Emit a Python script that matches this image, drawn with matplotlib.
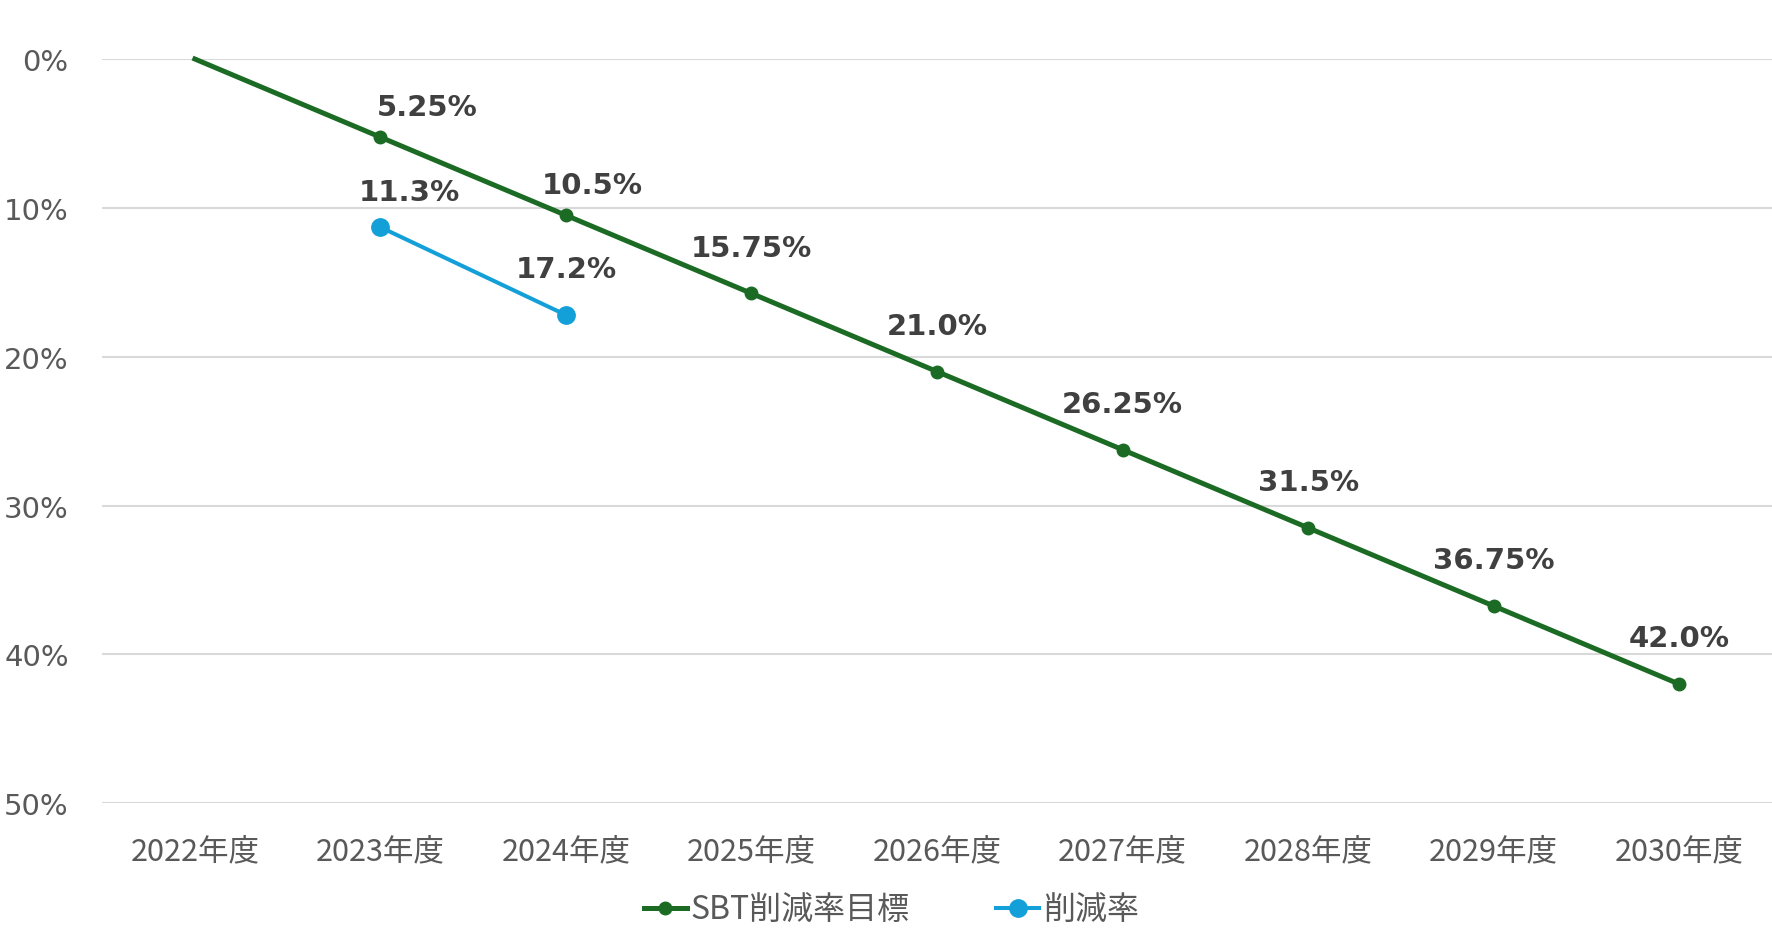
import matplotlib
matplotlib.use("Agg")
import matplotlib.pyplot as plt
from matplotlib.ticker import FuncFormatter

categories = ["2022年度", "2023年度", "2024年度", "2025年度", "2026年度",
              "2027年度", "2028年度", "2029年度", "2030年度"]
sbt_target = [0.0, 5.25, 10.5, 15.75, 21.0, 26.25, 31.5, 36.75, 42.0]
sbt_labels = [None, "5.25%", "10.5%", "15.75%", "21.0%", "26.25%", "31.5%", "36.75%", "42.0%"]
actual_idx = [1, 2]
actual_vals = [11.3, 17.2]
actual_labels = ["11.3%", "17.2%"]
yticks = [0, 10, 20, 30, 40, 50]

GREEN = "#1B6B25"
BLUE = "#139FD8"
LABEL_C = "#404040"
TICK_C = "#595959"
CJK = ["Noto Sans CJK JP", "DejaVu Sans"]

fig = plt.figure(figsize=(17.72, 9.45), dpi=100)
ax = fig.add_axes([0.0576, 0.149, 0.9424, 0.7875])

x = list(range(len(categories)))
ax.plot(x, sbt_target, color=GREEN, lw=3.6, marker="o", ms=9,
        markevery=list(range(1, len(x))), label="SBT削減率目標", clip_on=False, zorder=3)
ax.plot(actual_idx, actual_vals, color=BLUE, lw=2.9, marker="o", ms=12.5,
        label="削減率", clip_on=False, zorder=4)

# data labels (offsets in points)
sbt_off = {1: (34, 22), 2: (19, 22)}
for i, (v, t) in enumerate(zip(sbt_target, sbt_labels)):
    if t is None:
        continue
    dx, dy = sbt_off.get(i, (0, 33))
    ax.annotate(t, (i, v), xytext=(dx, dy), textcoords="offset points",
                ha="center", va="center", fontsize=21, fontweight="bold",
                color=LABEL_C, family="DejaVu Sans")
act_off = [(21, 25), (0, 33)]
for i, v, t, (dx, dy) in zip(actual_idx, actual_vals, actual_labels, act_off):
    ax.annotate(t, (i, v), xytext=(dx, dy), textcoords="offset points",
                ha="center", va="center", fontsize=21, fontweight="bold",
                color=LABEL_C, family="DejaVu Sans")

ax.set_xlim(-0.5, len(categories) - 0.5)
ax.set_ylim(50, 0)
ax.set_yticks(yticks)
ax.yaxis.set_major_formatter(FuncFormatter(lambda v, p: f"{v:.0f}%"))
ax.set_xticks(x)
ax.set_xticklabels(categories, family=CJK, fontsize=22, color=TICK_C)
for lbl in ax.get_yticklabels():
    lbl.set_family("DejaVu Sans")
    lbl.set_fontsize(21)
    lbl.set_color(TICK_C)
    lbl.set_va("center_baseline")
ax.tick_params(axis="both", length=0)
ax.tick_params(axis="y", pad=24)
ax.tick_params(axis="x", pad=23)
ax.grid(axis="y", color="#D9D9D9", lw=1.5)
ax.set_axisbelow(True)
for s in ax.spines.values():
    s.set_visible(False)

leg = fig.legend(loc="center", bbox_to_anchor=(0.503, 0.036), ncol=2, frameon=False,
                 prop={"family": CJK, "size": 23}, handlelength=1.35, columnspacing=2.7,
                 handletextpad=0.12)
for t in leg.get_texts():
    t.set_color(TICK_C)

fig.savefig("out.png", dpi=100, facecolor="white")
